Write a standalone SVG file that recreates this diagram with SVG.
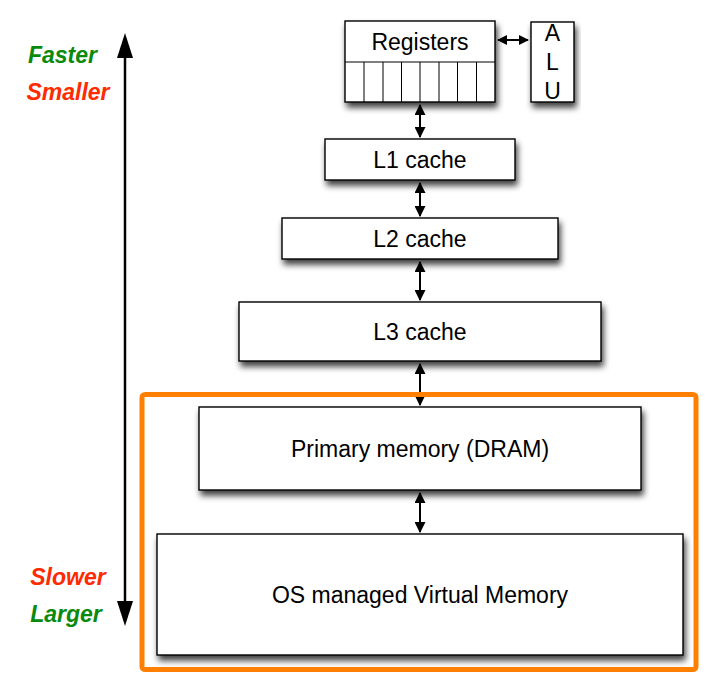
<svg xmlns="http://www.w3.org/2000/svg" width="714" height="700" viewBox="0 0 714 700">
<style>
.box{fill:#fff;stroke:#000;stroke-width:1.4;}
.lbl{font-family:"Liberation Sans",Arial,sans-serif;font-size:23px;fill:#000;text-anchor:middle;}
.side{font-family:"Liberation Sans",Arial,sans-serif;font-size:23px;font-weight:bold;font-style:italic;text-anchor:middle;}
.conn{stroke:#000;stroke-width:2;fill:none;}
.cell{stroke:#000;stroke-width:1;}
</style>
<defs>
<filter id="sh" x="-10%" y="-20%" width="125%" height="150%">
<feDropShadow dx="2" dy="5" stdDeviation="3" flood-color="#000" flood-opacity="0.75"/>
</filter>
<marker id="ah" viewBox="0 0 10 10" refX="9" refY="5" markerWidth="11" markerHeight="11" orient="auto-start-reverse" markerUnits="userSpaceOnUse">
<path d="M0,0 L10,5 L0,10 z" fill="#000"/>
</marker>
<marker id="ahs" viewBox="0 0 10 10" refX="9" refY="5" markerWidth="10" markerHeight="10" orient="auto-start-reverse" markerUnits="userSpaceOnUse">
<path d="M0,0 L10,5 L0,10 z" fill="#000"/>
</marker>
</defs>

<g id="scale-arrow">
<line x1="125" y1="55" x2="125" y2="604" stroke="#000" stroke-width="2.5"/>
<path d="M125,33 L117,58 L133,58 z" fill="#000"/>
<path d="M125,626 L117,601 L133,601 z" fill="#000"/>
<text x="62.5" y="63" class="side" fill="#0a8a0a">Faster</text>
<text x="68" y="100" class="side" fill="#ff2a00">Smaller</text>
<text x="68" y="585" class="side" fill="#ff2a00">Slower</text>
<text x="66" y="622" class="side" fill="#0a8a0a">Larger</text>
</g>

<g id="registers">
<rect x="345" y="21" width="150" height="81" class="box" filter="url(#sh)"/>
<line x1="345" y1="62" x2="495" y2="62" class="cell"/>
<line x1="364" y1="62" x2="364" y2="102" class="cell"/>
<line x1="383" y1="62" x2="383" y2="102" class="cell"/>
<line x1="401.5" y1="62" x2="401.5" y2="102" class="cell"/>
<line x1="420" y1="62" x2="420" y2="102" class="cell"/>
<line x1="439" y1="62" x2="439" y2="102" class="cell"/>
<line x1="457.5" y1="62" x2="457.5" y2="102" class="cell"/>
<line x1="476.5" y1="62" x2="476.5" y2="102" class="cell"/>
<text x="420" y="50" class="lbl">Registers</text>
</g>

<g id="alu">
<rect x="531" y="22" width="43" height="80" class="box" filter="url(#sh)"/>
<text x="552.5" y="41" class="lbl">A</text>
<text x="552.5" y="70" class="lbl">L</text>
<text x="552.5" y="99" class="lbl">U</text>
</g>

<g id="l1">
<rect x="325" y="139" width="190" height="41" class="box" filter="url(#sh)"/>
<text x="420" y="168" class="lbl">L1 cache</text>
</g>

<g id="l2">
<rect x="282" y="218" width="276" height="41" class="box" filter="url(#sh)"/>
<text x="420" y="247" class="lbl">L2 cache</text>
</g>

<g id="l3">
<rect x="239" y="302" width="362" height="59" class="box" filter="url(#sh)"/>
<text x="420" y="340" class="lbl">L3 cache</text>
</g>

<g id="dram">
<rect x="199" y="407" width="442" height="83" class="box" filter="url(#sh)"/>
<text x="420" y="457" class="lbl">Primary memory (DRAM)</text>
</g>

<g id="vm">
<rect x="157" y="534" width="526" height="121" class="box" filter="url(#sh)"/>
<text x="420" y="603" class="lbl">OS managed Virtual Memory</text>
</g>

<g id="connectors">
<line x1="498" y1="40" x2="528" y2="40" class="conn" stroke-width="2.5" marker-start="url(#ahs)" marker-end="url(#ahs)"/>
<line x1="420" y1="105" x2="420" y2="137" class="conn" marker-start="url(#ah)" marker-end="url(#ah)"/>
<line x1="420" y1="183" x2="420" y2="216" class="conn" marker-start="url(#ah)" marker-end="url(#ah)"/>
<line x1="420" y1="262" x2="420" y2="300" class="conn" marker-start="url(#ah)" marker-end="url(#ah)"/>
<line x1="420" y1="364" x2="420" y2="405" class="conn" marker-start="url(#ah)" marker-end="url(#ah)"/>
<line x1="420" y1="493" x2="420" y2="532" class="conn" marker-start="url(#ah)" marker-end="url(#ah)"/>
</g>

<g id="os-region">
<rect x="142" y="394.5" width="554" height="275" rx="3" fill="none" stroke="#ff8000" stroke-width="5"/>
</g>
</svg>
